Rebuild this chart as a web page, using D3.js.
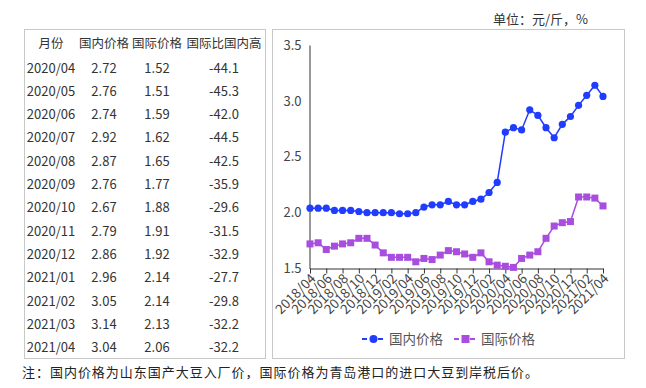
<!DOCTYPE html>
<html><head><meta charset="utf-8">
<script src="https://cdn.jsdelivr.net/npm/d3@7"></script>
<style>
html,body{margin:0;padding:0;background:#fff;}
svg{display:block;}
text{font-family:"Noto Sans CJK SC","Noto Sans",sans-serif;}
</style></head><body>
<script>
// ---- data ----
const months = ["2018/04","2018/05","2018/06","2018/07","2018/08","2018/09","2018/10","2018/11","2018/12",
"2019/01","2019/02","2019/03","2019/04","2019/05","2019/06","2019/07","2019/08","2019/09","2019/10","2019/11","2019/12",
"2020/01","2020/02","2020/03","2020/04","2020/05","2020/06","2020/07","2020/08","2020/09","2020/10","2020/11","2020/12",
"2021/01","2021/02","2021/03","2021/04"];
const domestic = [2.04,2.04,2.04,2.02,2.02,2.02,2.01,2.00,2.00,2.00,2.00,1.99,1.99,2.00,2.05,2.07,2.07,2.10,2.07,2.07,2.10,
2.12,2.18,2.27,2.72,2.76,2.74,2.92,2.87,2.76,2.67,2.79,2.86,2.96,3.05,3.14,3.04];
const international = [1.72,1.73,1.67,1.70,1.72,1.73,1.77,1.77,1.71,1.64,1.60,1.60,1.60,1.56,1.59,1.58,1.62,1.66,1.65,1.63,1.60,
1.64,1.56,1.53,1.52,1.51,1.59,1.62,1.65,1.77,1.88,1.91,1.92,2.14,2.14,2.13,2.06];
const tableMonths = ["2020/04","2020/05","2020/06","2020/07","2020/08","2020/09","2020/10","2020/11","2020/12","2021/01","2021/02","2021/03","2021/04"];
const tableDomestic = ["2.72","2.76","2.74","2.92","2.87","2.76","2.67","2.79","2.86","2.96","3.05","3.14","3.04"];
const tableIntl = ["1.52","1.51","1.59","1.62","1.65","1.77","1.88","1.91","1.92","2.14","2.14","2.13","2.06"];
const tableDiff = ["-44.1","-45.3","-42.0","-44.5","-42.5","-35.9","-29.6","-31.5","-32.9","-27.7","-29.8","-32.2","-32.2"];
const tableHeaders = ["月份","国内价格","国际价格","国际比国内高"];
const yTicks = [1.5,2.0,2.5,3.0,3.5];
const xTickLabels = months.filter((d,i)=>i%2===0);
const seriesNames = ["国内价格","国际价格"];
const unitText = "单位：元/斤，%";
const noteText = "注：国内价格为山东国产大豆入厂价，国际价格为青岛港口的进口大豆到岸税后价。";

const W=646,H=388;
const svg=d3.select("body").append("svg").attr("width",W).attr("height",H);

// ---- table ----
svg.append("rect").attr("x",24.5).attr("y",29.5).attr("width",241).attr("height",329)
  .attr("fill","#fff").attr("stroke","#c8c8c8");
const colX=[51,104,157,224];
const tg=svg.append("g").attr("fill","#333").attr("font-size",13).attr("text-anchor","middle");
tableHeaders.forEach((h,i)=>{
  tg.append("text").attr("x",colX[i]).attr("y",47.5).attr("font-size",12.5).text(h);
});
const rowY=i=>72.5+i*23.3;
tableMonths.forEach((m,i)=>{
  const vals=[m,tableDomestic[i],tableIntl[i],tableDiff[i]];
  vals.forEach((v,j)=>tg.append("text").attr("x",colX[j]).attr("y",rowY(i)).text(v));
});

// ---- chart box ----
svg.append("rect").attr("x",272.5).attr("y",29.5).attr("width",352).attr("height",329)
  .attr("fill","#fff").attr("stroke","#c8c8c8");
svg.append("text").attr("x",493).attr("y",24).attr("font-size",13).attr("fill","#333").text(unitText);

const x=d3.scalePoint().domain(months).range([310,603]).padding(0);
const y=d3.scaleLinear().domain([1.5,3.5]).range([268.5,45]);

const yAxis=svg.append("g").attr("transform","translate(309.5,0)")
  .call(d3.axisLeft(y).tickValues(yTicks).tickFormat(d3.format(".1f")).tickSize(0).tickPadding(8));
yAxis.select(".domain").attr("stroke","#333");
yAxis.selectAll("text").attr("font-size",13).attr("fill","#444").attr("font-family",'"Noto Sans","Noto Sans CJK SC",sans-serif');

const xAxis=svg.append("g").attr("transform","translate(0,268.5)")
  .call(d3.axisBottom(x).tickValues(xTickLabels).tickSize(5).tickSizeOuter(0));
xAxis.select(".domain").attr("stroke","#333");
xAxis.selectAll(".tick line").attr("stroke","#333");
xAxis.selectAll("text").attr("font-size",13.5).attr("fill","#444")
  .attr("font-family",'"Noto Sans","Noto Sans CJK SC",sans-serif')
  .attr("text-anchor","end").attr("dy",0).attr("y",0)
  .attr("transform","translate(6,11) rotate(-45)");

const blue="#1f3cff", purple="#a94ddf";
const line=d3.line().x((d,i)=>x(months[i])).y(d=>y(d));
svg.append("path").datum(domestic).attr("d",line).attr("fill","none").attr("stroke",blue).attr("stroke-width",1.5);
svg.append("path").datum(international).attr("d",line).attr("fill","none").attr("stroke",purple).attr("stroke-width",1.5);
svg.append("g").selectAll("circle").data(domestic).join("circle")
  .attr("cx",(d,i)=>x(months[i])).attr("cy",d=>y(d)).attr("r",3.6).attr("fill",blue);
svg.append("g").selectAll("rect").data(international).join("rect")
  .attr("x",(d,i)=>x(months[i])-3.5).attr("y",d=>y(d)-3.5).attr("width",7).attr("height",7).attr("fill",purple);

// ---- legend ----
const lg=svg.append("g");
const legItems=[{name:seriesNames[0],c:blue,x0:362,shape:"circle"},{name:seriesNames[1],c:purple,x0:454,shape:"rect"}];
legItems.forEach(it=>{
  lg.append("line").attr("x1",it.x0).attr("x2",it.x0+23).attr("y1",339).attr("y2",339)
    .attr("stroke",it.c).attr("stroke-width",2).attr("stroke-dasharray","5,3");
  if(it.shape==="circle") lg.append("circle").attr("cx",it.x0+11.5).attr("cy",339).attr("r",4).attr("fill",it.c);
  else lg.append("rect").attr("x",it.x0+7.5).attr("y",335).attr("width",8).attr("height",8).attr("fill",it.c);
  lg.append("text").attr("x",it.x0+27).attr("y",344).attr("font-size",13.5).attr("fill","#555").text(it.name);
});

// ---- footnote ----
svg.append("text").attr("x",22).attr("y",377).attr("font-size",13).attr("fill","#222")
  .attr("textLength",516).attr("lengthAdjust","spacing").text(noteText);
</script>
</body></html>
